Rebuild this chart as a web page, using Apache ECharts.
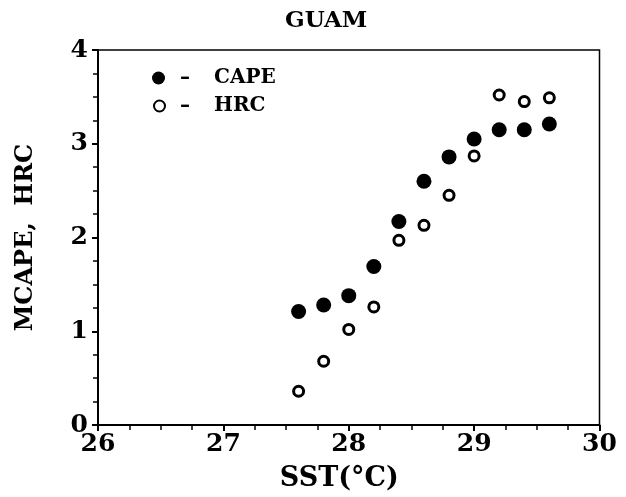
<!DOCTYPE html>
<html><head><meta charset="utf-8">
<script src="https://cdn.jsdelivr.net/npm/echarts@6/dist/echarts.min.js"></script>
<style>html,body{margin:0;padding:0;background:#fff}#c{width:626px;height:497px}</style>
</head><body><div id="c"></div>
<script>
const sst = [27.6, 27.8, 28.0, 28.2, 28.4, 28.6, 28.8, 29.0, 29.2, 29.4, 29.6];
const cape = [1.21, 1.28, 1.38, 1.69, 2.17, 2.60, 2.86, 3.05, 3.15, 3.15, 3.21];
const hrc = [0.36, 0.68, 1.02, 1.26, 1.97, 2.13, 2.45, 2.87, 3.52, 3.45, 3.49];
const font = '"DejaVu Serif", "Liberation Serif", serif';
const legendText = (padN) => ({
  fontFamily: font, fontWeight: 'bold', fontSize: 20, color: '#000',
  rich: {
    d: { fontFamily: font, fontWeight: 'bold', fontSize: 20, color: '#000', padding: [0, 0, 0, 10] },
    n: { fontFamily: font, fontWeight: 'bold', fontSize: 20, color: '#000', padding: [0, 0, 0, padN] }
  }
});
const chart = echarts.init(document.getElementById('c'));
chart.setOption({
  animation: false,
  backgroundColor: '#fff',
  title: { text: 'GUAM', left: 285, top: 10, padding: 0,
    textStyle: { fontFamily: font, fontWeight: 'bold', fontSize: 23, color: '#000' } },
  legend: [
    { orient: 'vertical', left: 152, top: 68, padding: 0, itemWidth: 13, itemHeight: 13,
      formatter: n => '{d|–}{n|' + n + '}', textStyle: legendText(24), data: ['CAPE'] },
    { orient: 'vertical', left: 153, top: 96, padding: 0, itemWidth: 11, itemHeight: 11,
      formatter: n => '{d|–}{n|' + n + '}', textStyle: legendText(24), data: ['HRC'] }
  ],
  grid: { left: 98, right: 26.5, top: 50, bottom: 72, show: true, borderColor: '#000', borderWidth: 1.5, backgroundColor: 'transparent' },
  xAxis: {
    type: 'value', min: 26, max: 30, interval: 1,
    name: 'SST(°C)', nameLocation: 'middle', nameGap: 40,
    nameTextStyle: { fontFamily: font, fontWeight: 'bold', fontSize: 27, color: '#000', padding: [0, 19, 0, 0] },
    axisLine: { lineStyle: { color: '#000', width: 2 } },
    axisTick: { inside: false, length: 6, lineStyle: { color: '#000', width: 2 } },
    minorTick: { show: true, splitNumber: 4, length: 5, lineStyle: { color: '#000', width: 1.5 } },
    axisLabel: { fontFamily: font, fontWeight: 'bold', fontSize: 25, color: '#000', margin: 7 },
    splitLine: { show: false }
  },
  yAxis: {
    type: 'value', min: 0, max: 4, interval: 1,
    name: 'MCAPE,  HRC', nameLocation: 'middle', nameGap: 60, nameRotate: 90,
    nameTextStyle: { fontFamily: font, fontWeight: 'bold', fontSize: 24, color: '#000' },
    axisLine: { lineStyle: { color: '#000', width: 2 } },
    axisTick: { inside: false, length: 6, lineStyle: { color: '#000', width: 2 } },
    minorTick: { show: true, splitNumber: 4, length: 5, lineStyle: { color: '#000', width: 1.5 } },
    axisLabel: { fontFamily: font, fontWeight: 'bold', fontSize: 25, color: '#000', margin: 10 },
    splitLine: { show: false }
  },
  series: [
    { name: 'CAPE', type: 'scatter', symbol: 'circle', symbolSize: 15,
      itemStyle: { color: '#000', opacity: 1 },
      data: sst.map((x, i) => [x, cape[i]]) },
    { name: 'HRC', type: 'scatter', symbol: 'circle', symbolSize: 10,
      itemStyle: { color: '#fff', borderColor: '#000', borderWidth: 3, opacity: 1 },
      data: sst.map((x, i) => [x, hrc[i]]) }
  ]
});
</script></body></html>
